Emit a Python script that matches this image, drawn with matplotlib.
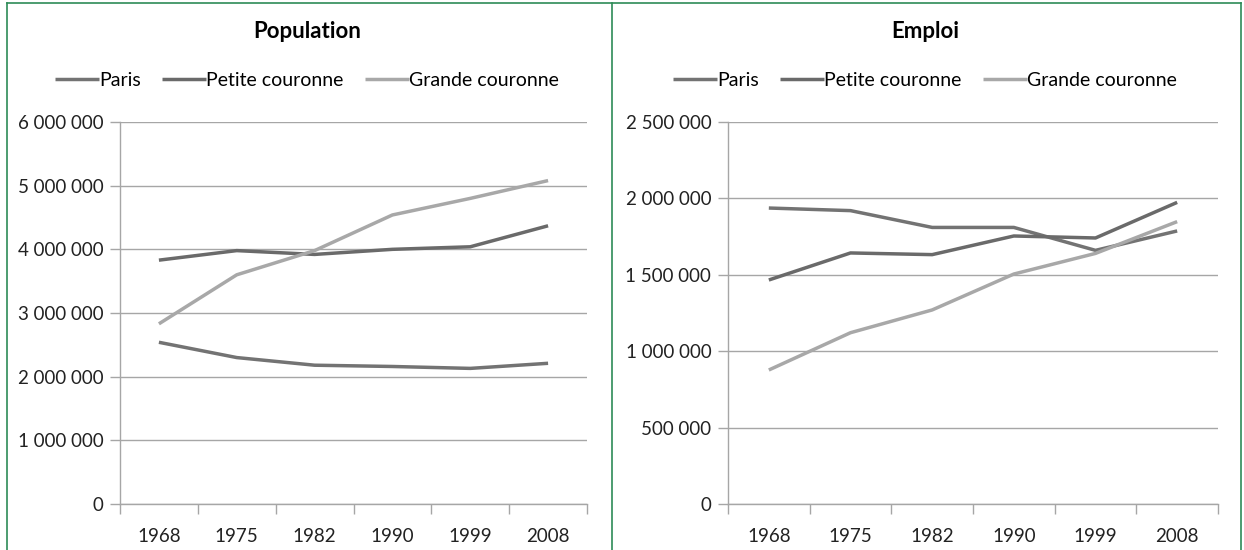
import matplotlib
matplotlib.use('Agg')
import matplotlib.pyplot as plt
import numpy as np

plt.rcParams['font.family'] = ['Lato', 'DejaVu Sans']

# Data
years = ['1968', '1975', '1982', '1990', '1999', '2008']
series = ['Paris', 'Petite couronne', 'Grande couronne']

pop_paris = [2540000, 2300000, 2180000, 2160000, 2130000, 2210000]
pop_petite = [3830000, 3980000, 3920000, 4000000, 4040000, 4370000]
pop_grande = [2830000, 3600000, 3980000, 4540000, 4800000, 5080000]

emp_paris = [1937000, 1920000, 1810000, 1810000, 1660000, 1787000]
emp_petite = [1466000, 1643000, 1632000, 1754000, 1741000, 1974000]
emp_grande = [877000, 1121000, 1270000, 1505000, 1640000, 1848000]

pop_ticks = [0, 1000000, 2000000, 3000000, 4000000, 5000000, 6000000]
emp_ticks = [0, 500000, 1000000, 1500000, 2000000, 2500000]

colors = ['#737373', '#6a6a6a', '#a8a8a8']
grid_col = '#a6a6a6'

W, H = 1244, 550
fig = plt.figure(figsize=(W / 100, H / 100), dpi=100)


def fx(px):
	return px / W


def fy(py):
	return 1 - py / H


def fmt(v):
	return '{:,}'.format(v).replace(',', ' ')


def draw_panel(left_px, right_px, cx, title, data, ticks):
	ax = fig.add_axes([fx(left_px), fy(504), fx(right_px) - fx(left_px), fy(122) - fy(504)])
	x = np.arange(len(years))
	for vals, name, c in zip(data, series, colors):
		ax.plot(x, vals, color=c, lw=2.5, label=name, solid_capstyle='butt')
	ax.set_xlim(-0.5, len(years) - 0.5)
	ax.set_ylim(ticks[0], ticks[-1])
	ax.set_yticks(ticks)
	ax.set_yticklabels([fmt(t) for t in ticks])
	ax.set_xticks(x)
	ax.set_xticklabels(years)
	ax.set_xticks(np.arange(-0.5, len(years)), minor=True)
	ax.tick_params(axis='x', which='major', length=0, pad=17, labelsize=13.5, labelcolor='#222222')
	ax.tick_params(axis='x', which='minor', length=7, color=grid_col, width=1)
	ax.tick_params(axis='y', length=7, color=grid_col, width=1, pad=5, labelsize=13.5, labelcolor='#222222')
	ax.grid(axis='y', color=grid_col, lw=1)
	ax.set_axisbelow(True)
	for s in ['top', 'right']:
		ax.spines[s].set_visible(False)
	for s in ['left', 'bottom']:
		ax.spines[s].set_color(grid_col)
		ax.spines[s].set_linewidth(1)
	ax.patch.set_alpha(0)
	fig.text(fx(cx), fy(31), title, ha='center', va='center', fontsize=16, fontweight='bold')
	ax.legend(loc='center', bbox_to_anchor=(fx(cx), fy(80)), bbox_transform=fig.transFigure,
		ncol=3, frameon=False, fontsize=14, handlelength=2.25, handletextpad=0.0,
		columnspacing=1.1, borderpad=0)
	return ax


draw_panel(120, 587, 307, 'Population', [pop_paris, pop_petite, pop_grande], pop_ticks)
draw_panel(728, 1218, 925, 'Emploi', [emp_paris, emp_petite, emp_grande], emp_ticks)

# green frame around the two panels
green = '#2e8b57'
for xs, ys in [((7, 7), (3, 550)), ((612, 612), (3, 550)), ((1241, 1241), (3, 550)), ((7, 1241), (3, 3))]:
	fig.add_artist(plt.Line2D([fx(xs[0]), fx(xs[1])], [fy(ys[0]), fy(ys[1])], color=green, lw=1.2))

fig.savefig('out.png', dpi=100)
